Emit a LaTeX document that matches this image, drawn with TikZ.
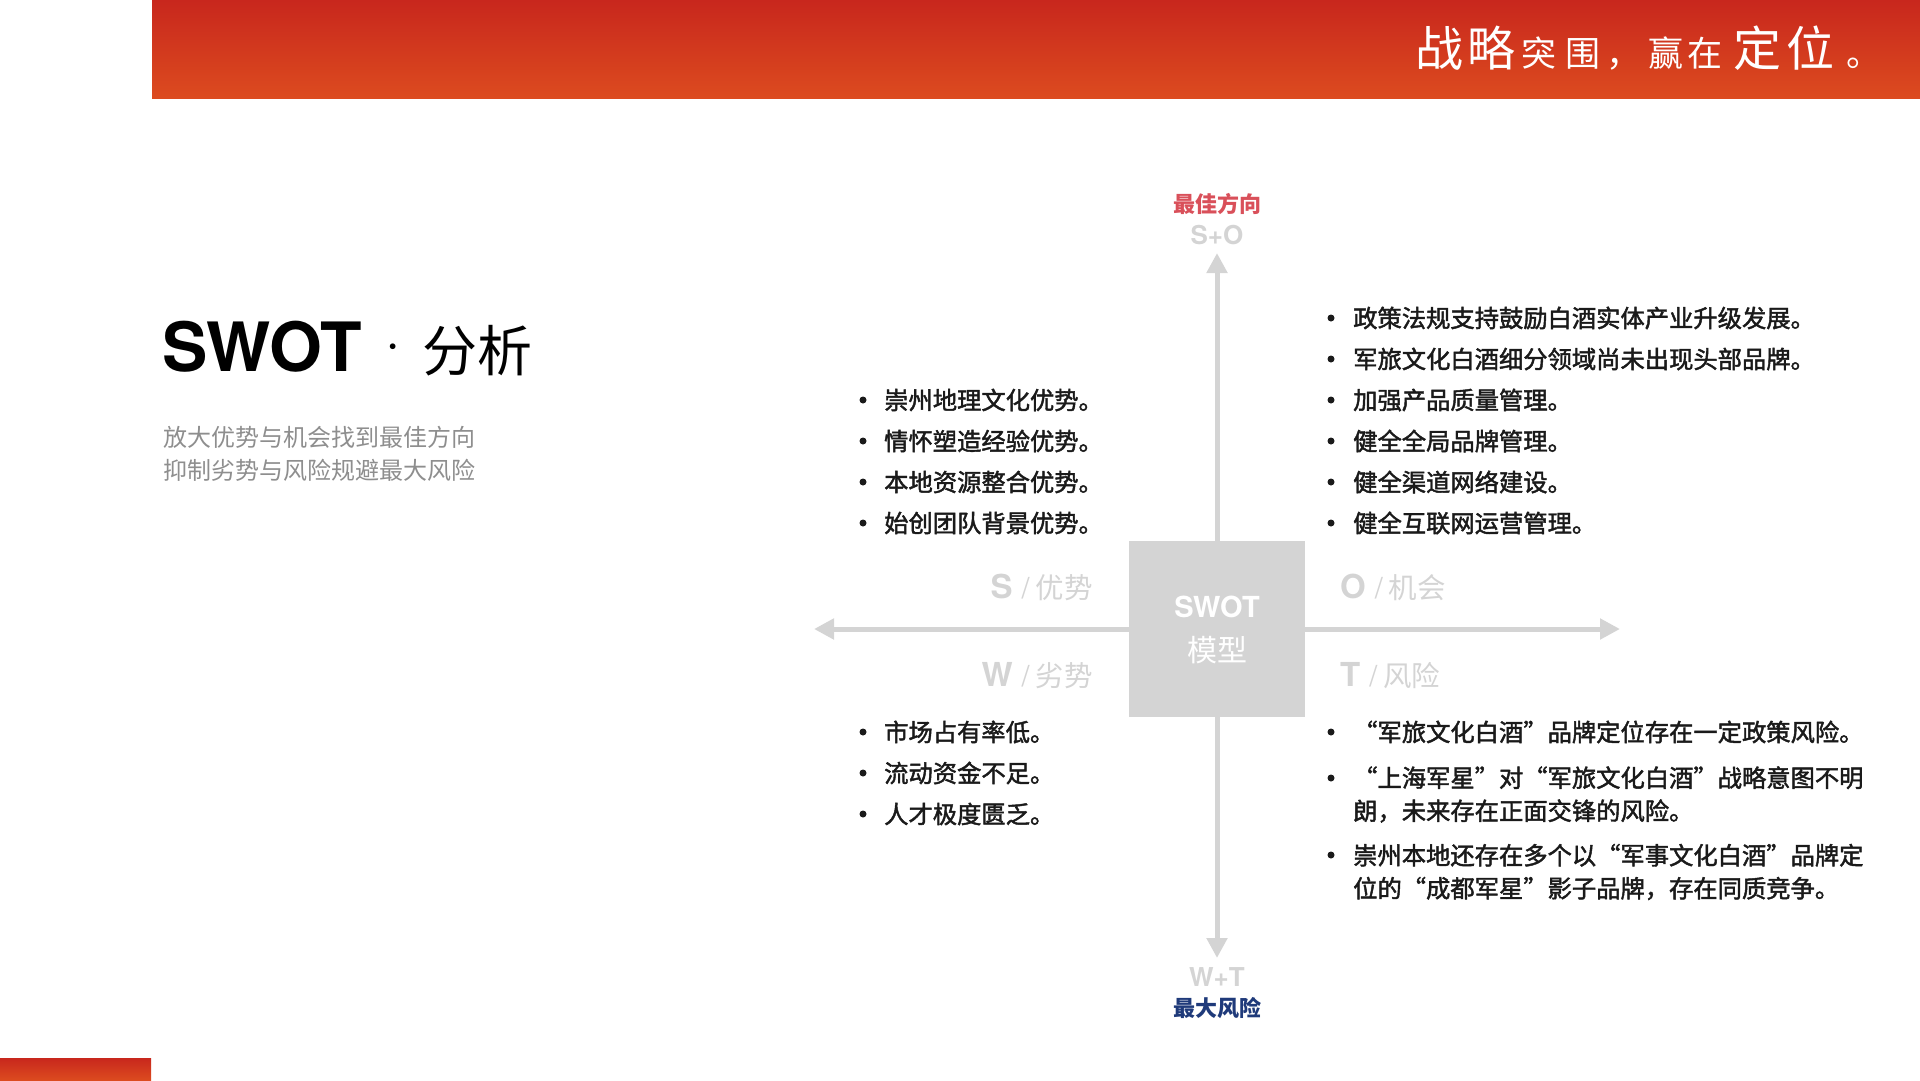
\documentclass[tikz,border=0pt]{standalone}
\usepackage{fontspec}
\setmainfont{TeX Gyre Heros}
\newfontfamily\cjk{Noto Sans CJK SC}
\newfontfamily\cjkmid[FakeBold=1.8]{Noto Sans CJK SC}
\usetikzlibrary{arrows.meta,positioning}
\definecolor{ink}{HTML}{1A1A1A}
\definecolor{bartop}{HTML}{C8271D}
\definecolor{barbot}{HTML}{DC4B1F}
\definecolor{axisg}{HTML}{D4D4D4}
\definecolor{subg}{HTML}{8E8E8E}
\definecolor{bestr}{HTML}{D9505A}
\definecolor{riskb}{HTML}{1F3A7A}
\newcommand\qlab[2]{{\rmfamily\bfseries\fontsize{33}{33}\selectfont #1}\hspace{9pt}{\rmfamily\fontsize{29}{29}\selectfont/}\hspace{6pt}#2}

\begin{document}
\begin{tikzpicture}[x=1pt,y=-1pt,
  item/.style={anchor=west,inner sep=0,text=ink,align=left,font=\cjkmid\fontsize{24.3}{33}\selectfont},
  quad/.style={inner sep=0,text=axisg,font=\cjk\fontsize{28.5}{28.5}\selectfont},
  axisline/.style={draw=axisg,line width=5pt,-{Triangle[length=20pt,width=20pt]}}]
\useasboundingbox (0,0) rectangle (1920,1080);
% header bar and corner bar
\shade[top color=bartop,bottom color=barbot] (152,0) rectangle (1920,98);
\shade[top color=bartop,bottom color=barbot] (0,1058) rectangle (151,1080);
% slogan, one character at a time
\foreach \ch/\x/\s in {战/1415/48,略/1467/48,突/1521/35,围/1565/35,，/1606/35,赢/1648/35,在/1687/35,定/1733/48,位/1786/48,。/1846/35}
  \node[anchor=base west,inner sep=0,text=white] (h\x) at (\x,66) {\cjk\fontsize{\s}{\s}\selectfont\ch};
% title block
\node[anchor=base west,inner sep=0] (title) at (162,371) {\fontsize{68}{68}\selectfont\bfseries SWOT};
\node[anchor=base west,inner sep=0] (tdot) at (385,360) {\fontsize{55}{55}\selectfont ·};
\node[anchor=base west,inner sep=0] (tcn) at (422,371) {\cjk\fontsize{55}{55}\selectfont 分析};
\node[anchor=west,inner sep=0,align=left,text=subg,font=\cjk\fontsize{24}{33}\selectfont] (sub) at (163,453.5)
  {放大优势与机会找到最佳方向\\抑制劣势与风险规避最大风险};
% model square and axes
\node[fill=axisg,minimum width=176pt,minimum height=176pt,inner sep=0] (box) at (1217,629) {};
\node[text=white,inner sep=0] (swot) at (1217,607) {\fontsize{29}{29}\selectfont\bfseries SWOT};
\node[text=white,inner sep=0] (model) at (1217,650) {\cjk\fontsize{30}{30}\selectfont 模型};
\coordinate (up) at (1217,253);
\coordinate (down) at (1217,958);
\coordinate (left) at (814,629);
\coordinate (right) at (1620,629);
\draw[axisline] (box.north) -- (up);
\draw[axisline] (box.south) -- (down);
\draw[axisline] (box.west) -- (left);
\draw[axisline] (box.east) -- (right);
% axis ends
\node[inner sep=0,text=bestr] (best) at (1217,204) {\cjk\bfseries\fontsize{22}{22}\selectfont 最佳方向};
\node[inner sep=0,text=axisg] (so) at (1217,235) {\bfseries\fontsize{26}{26}\selectfont S+O};
\node[inner sep=0,text=axisg] (wt) at (1217,977) {\bfseries\fontsize{26}{26}\selectfont W+T};
\node[inner sep=0,text=riskb] (worst) at (1217,1008) {\cjk\bfseries\fontsize{22}{22}\selectfont 最大风险};
% quadrant labels
\node[quad,anchor=east] (slab) at (1093,587) {\qlab{S}{优势}};
\node[quad,anchor=east] (wlab) at (1093,676) {\qlab{W}{劣势}};
\node[quad,anchor=west] (olab) at (1340,587) {\qlab{O}{机会}};
\node[quad,anchor=west] (tlab) at (1340,676) {\qlab{T}{风险}};
% strengths
\foreach \t [count=\i] in {崇州地理文化优势。,情怀塑造经验优势。,本地资源整合优势。,始创团队背景优势。}{
  \fill[ink] (863,359+41*\i) circle[radius=3.5pt];
  \node[item] (s\i) at (884,359+41*\i) {\t};
}
% opportunities
\foreach \t [count=\i] in {政策法规支持鼓励白酒实体产业升级发展。,军旅文化白酒细分领域尚未出现头部品牌。,加强产品质量管理。,健全全局品牌管理。,健全渠道网络建设。,健全互联网运营管理。}{
  \fill[ink] (1331,277+41*\i) circle[radius=3.5pt];
  \node[item] (o\i) at (1353,277+41*\i) {\t};
}
% weaknesses
\foreach \t [count=\i] in {市场占有率低。,流动资金不足。,人才极度匮乏。}{
  \fill[ink] (863,691+41*\i) circle[radius=3.5pt];
  \node[item] (w\i) at (884,691+41*\i) {\t};
}
% threats
\foreach \y in {732,778,855} \fill[ink] (1331,\y) circle[radius=3.5pt];
\node[item] (t1) at (1353,732) {“军旅文化白酒”品牌定位存在一定政策风险。};
\node[item] (t2) at (1353,794.5) {“上海军星”对“军旅文化白酒”战略意图不明\\朗，未来存在正面交锋的风险。};
\node[item] (t3) at (1353,872) {崇州本地还存在多个以“军事文化白酒”品牌定\\位的“成都军星”影子品牌，存在同质竞争。};
\end{tikzpicture}
\end{document}
